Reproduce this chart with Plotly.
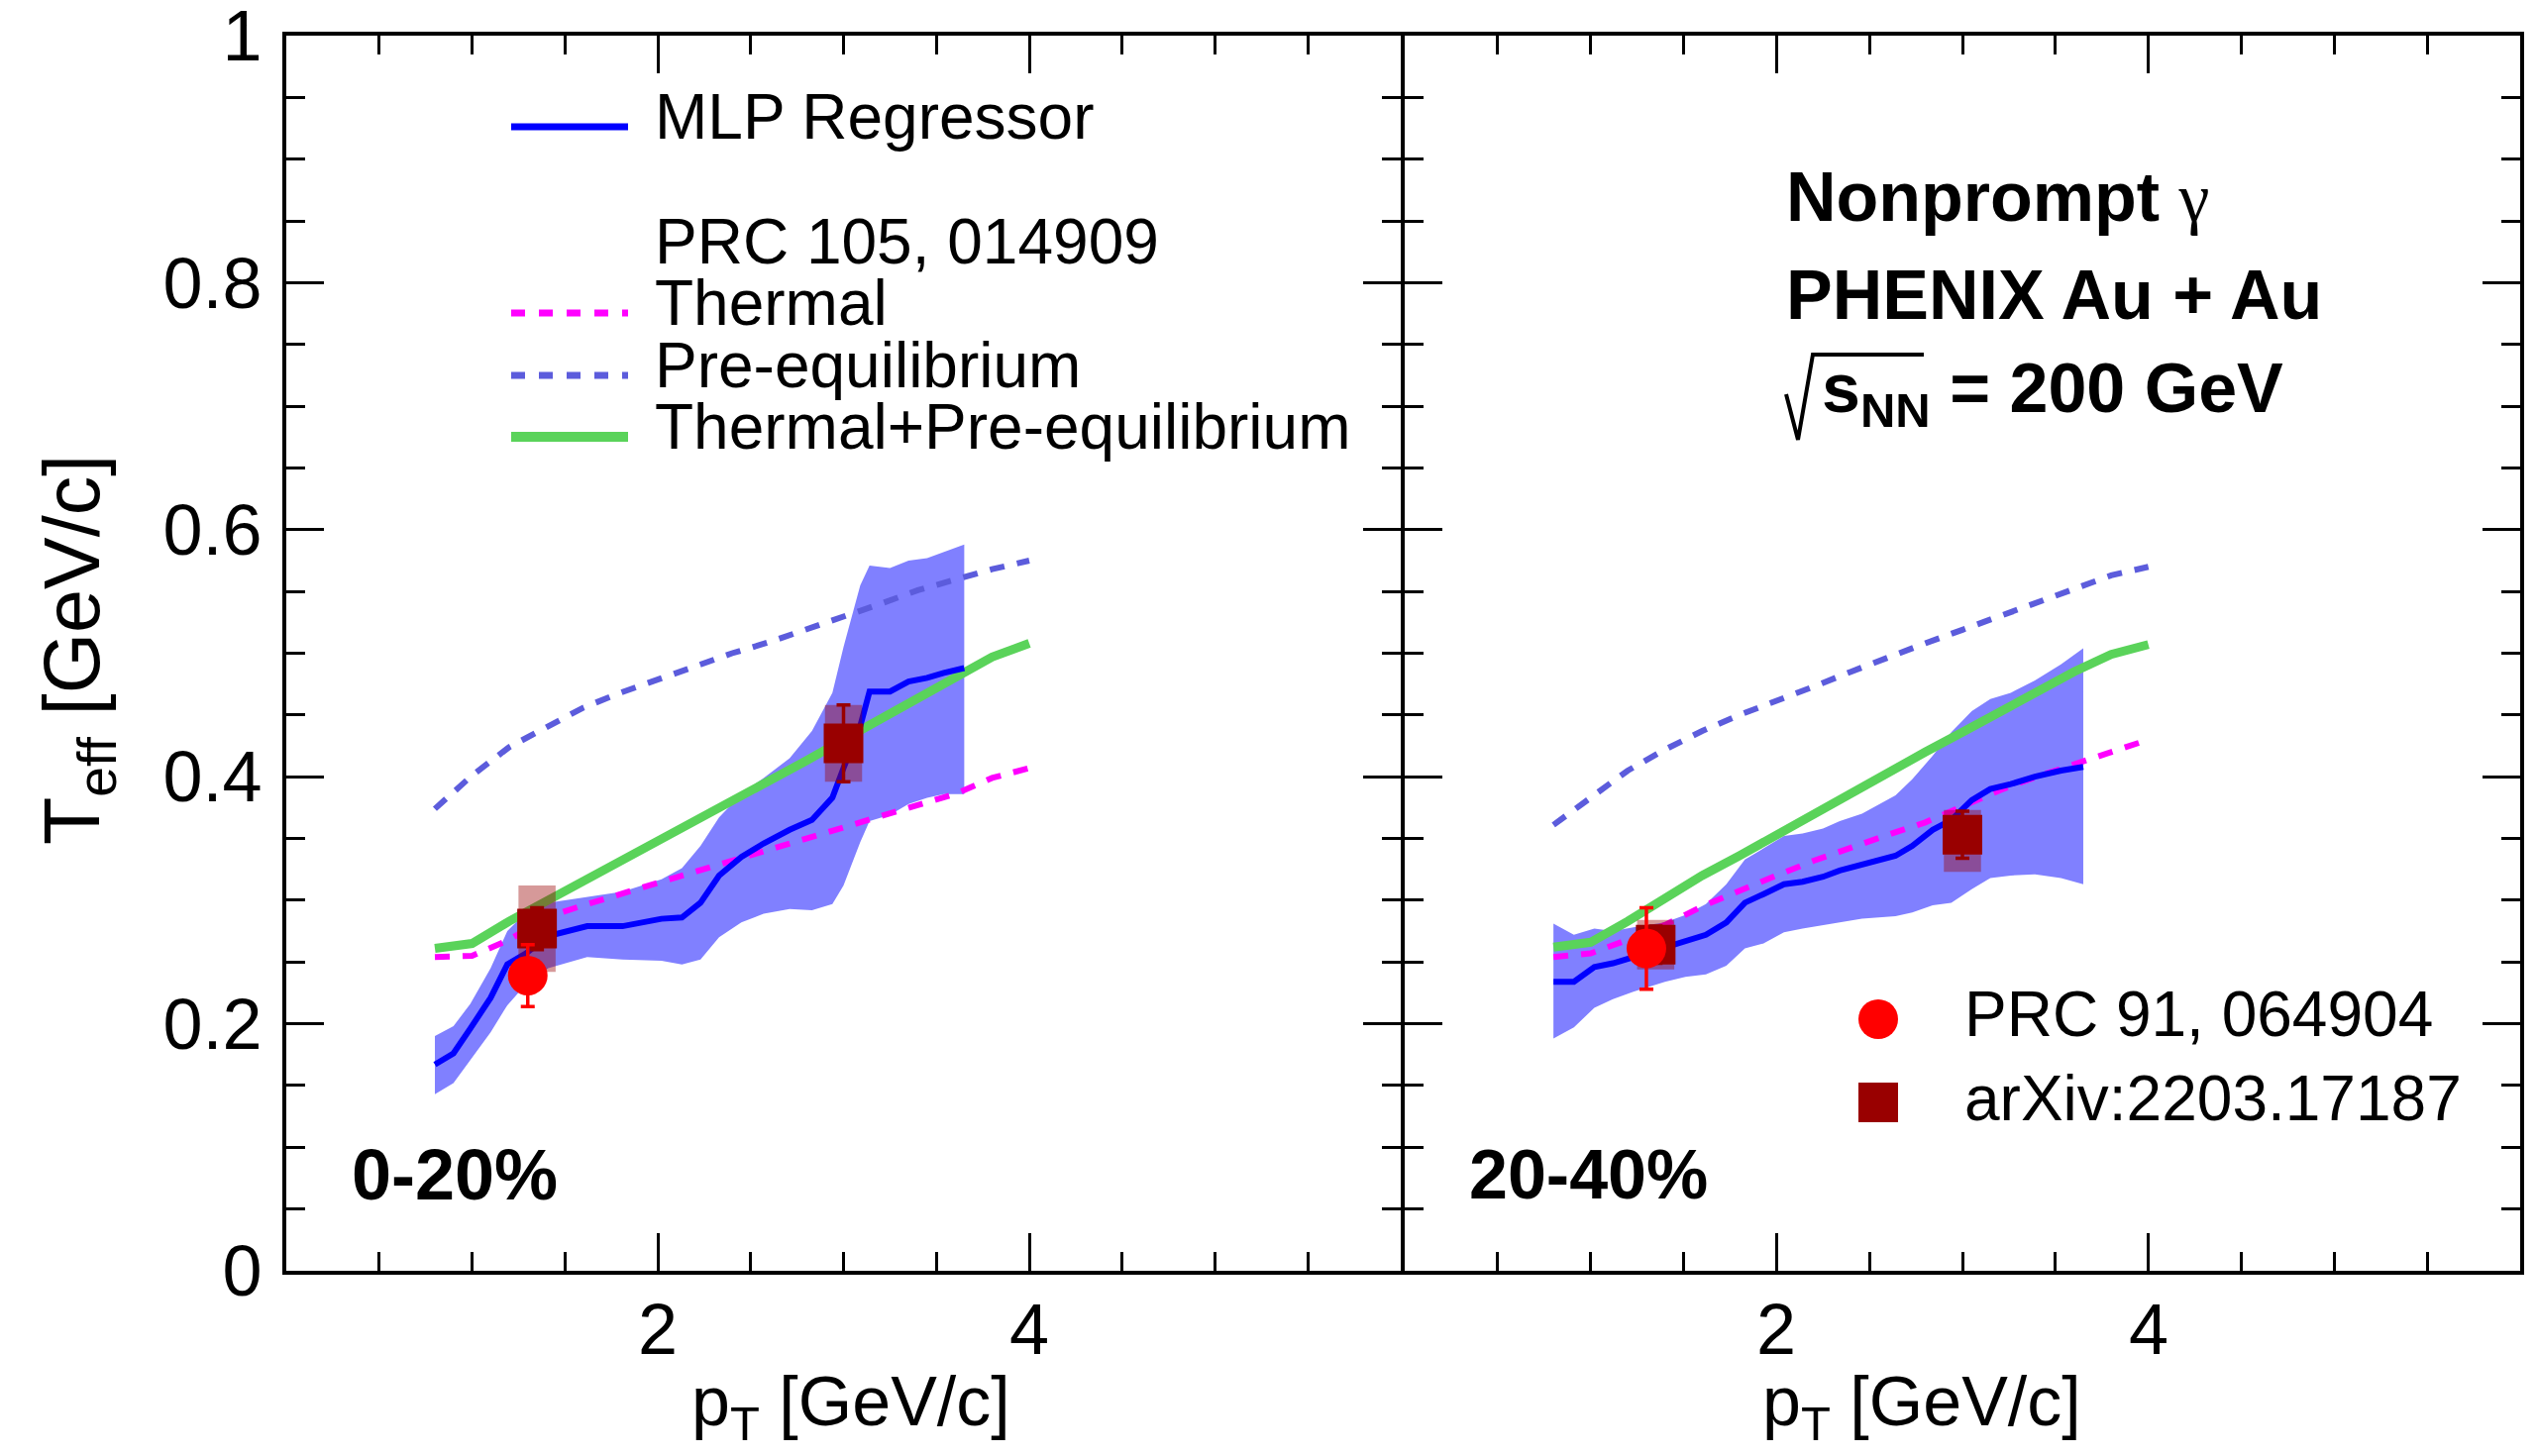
import plotly.graph_objects as go

# ---------------- data ----------------
PT_GRID = [0.8, 1.0, 1.2, 1.4, 1.6, 1.8, 2.0, 2.2, 2.4, 2.6, 2.8, 3.0, 3.2, 3.4, 3.6, 3.8, 4.0]

# 0-20 % centrality, PRC 105, 014909 model curves
THERMAL_020 = [0.254, 0.255, 0.268, 0.286, 0.296, 0.305, 0.314, 0.323, 0.332, 0.342, 0.351, 0.360, 0.369, 0.378, 0.386, 0.399, 0.407]
PREEQ_020 = [0.374, 0.401, 0.424, 0.440, 0.456, 0.468, 0.479, 0.490, 0.500, 0.509, 0.519, 0.529, 0.540, 0.551, 0.560, 0.568, 0.575]
TOTAL_020 = [0.261, 0.265, 0.283, 0.299, 0.315, 0.331, 0.348, 0.364, 0.381, 0.397, 0.413, 0.430, 0.447, 0.463, 0.479, 0.497, 0.508]

# 20-40 % centrality model curves
THERMAL_2040 = [0.254, 0.257, 0.268, 0.280, 0.295, 0.308, 0.320, 0.332, 0.343, 0.353, 0.363, 0.376, 0.389, 0.400, 0.410, 0.420, 0.430]
PREEQ_2040 = [0.361, 0.383, 0.405, 0.422, 0.437, 0.450, 0.461, 0.473, 0.485, 0.497, 0.508, 0.519, 0.530, 0.541, 0.553, 0.563, 0.570]
TOTAL_2040 = [0.262, 0.266, 0.283, 0.302, 0.320, 0.336, 0.353, 0.371, 0.387, 0.404, 0.420, 0.436, 0.453, 0.469, 0.485, 0.499, 0.507]

# MLP regressor, 0-20 %
MLP_PT_020 = [0.80, 0.90, 0.99, 1.10, 1.19, 1.29, 1.41, 1.62, 1.81, 2.02, 2.13, 2.23, 2.33, 2.45, 2.57, 2.71,
              2.83, 2.94, 3.00, 3.09, 3.14, 3.25, 3.35, 3.45, 3.54, 3.65]
MLP_020 = [0.167, 0.176, 0.196, 0.221, 0.248, 0.257, 0.271, 0.279, 0.279, 0.285, 0.286, 0.298, 0.320, 0.335, 0.346, 0.357,
           0.365, 0.383, 0.407, 0.441, 0.469, 0.469, 0.477, 0.480, 0.484, 0.488]
MLP_HI_020 = [0.190, 0.198, 0.216, 0.245, 0.275, 0.290, 0.298, 0.303, 0.307, 0.317, 0.326, 0.344, 0.367, 0.386, 0.399, 0.415,
              0.437, 0.468, 0.505, 0.555, 0.571, 0.569, 0.575, 0.577, 0.582, 0.588]
MLP_LO_020 = [0.143, 0.152, 0.170, 0.193, 0.215, 0.232, 0.245, 0.254, 0.252, 0.251, 0.248, 0.252, 0.270, 0.282, 0.289, 0.293,
              0.292, 0.297, 0.312, 0.347, 0.364, 0.369, 0.378, 0.383, 0.386, 0.386]

# MLP regressor, 20-40 %
MLP_PT_2040 = [0.80, 0.91, 1.02, 1.12, 1.23, 1.40, 1.51, 1.62, 1.73, 1.83, 1.93, 2.04, 2.14, 2.25, 2.34, 2.46,
               2.64, 2.73, 2.84, 2.94, 3.05, 3.15, 3.26, 3.39, 3.53, 3.65]
MLP_2040 = [0.234, 0.234, 0.246, 0.249, 0.254, 0.262, 0.266, 0.272, 0.282, 0.298, 0.305, 0.313, 0.315, 0.319, 0.324, 0.329,
            0.336, 0.344, 0.357, 0.365, 0.381, 0.390, 0.394, 0.400, 0.405, 0.408]
MLP_HI_2040 = [0.281, 0.272, 0.277, 0.275, 0.278, 0.282, 0.288, 0.297, 0.313, 0.333, 0.342, 0.352, 0.354, 0.358, 0.364, 0.370,
               0.385, 0.398, 0.417, 0.436, 0.453, 0.463, 0.468, 0.478, 0.491, 0.504]
MLP_LO_2040 = [0.188, 0.197, 0.213, 0.220, 0.226, 0.234, 0.238, 0.240, 0.247, 0.261, 0.265, 0.274, 0.277, 0.280, 0.282, 0.285,
               0.287, 0.290, 0.296, 0.298, 0.309, 0.318, 0.320, 0.321, 0.318, 0.313]

# PRC 91, 064904 (red circles)
PRC91_PT_020, PRC91_T_020, PRC91_ERR_020 = [1.30], [0.239], [0.025]
PRC91_PT_2040, PRC91_T_2040, PRC91_ERR_2040 = [1.30], [0.261], [0.033]

# arXiv:2203.17187 (dark red squares): stat error and systematic (up / down)
ARX_PT_020 = [1.35, 3.00]
ARX_T_020 = [0.277, 0.427]
ARX_STAT_020 = [0.017, 0.031]
ARX_SYS_UP_020 = [0.035, 0.031]
ARX_SYS_DN_020 = [0.035, 0.031]

ARX_PT_2040 = [1.35, 3.00]
ARX_T_2040 = [0.264, 0.353]
ARX_STAT_2040 = [0.015, 0.019]
ARX_SYS_UP_2040 = [0.020, 0.020]
ARX_SYS_DN_2040 = [0.020, 0.030]

X_TICKS = [2, 4]
X_MINOR = [0.5, 1, 1.5, 2.5, 3, 3.5, 4.5, 5, 5.5]
Y_TICKS = [0, 0.2, 0.4, 0.6, 0.8, 1.0]
Y_TICKTEXT = ["0", "0.2", "0.4", "0.6", "0.8", "1"]

# ---------------- styling ----------------
FONT = "Liberation Sans, Arial, Helvetica, sans-serif"
C_MLP = "#0000ff"
C_BAND = "#8080ff"
C_TH = "#ff00ff"
C_PRE = "#5c5cdc"
C_TOT = "#5ad35a"
C_RED = "#ff0000"
C_DRED = "#990000"
C_SYS = "rgba(153,0,0,0.4)"
SYS_HALF_W = 0.10

W, H = 2561, 1470
L, R, T, B = 289, 17, 36, 187
PW, PH = W - L - R, H - T - B


def px(xp):
    return (xp - L) / PW


def py(yp):
    return (H - B - yp) / PH


fig = go.Figure()


def add_panel(xa, ya, pt_mlp, mlp, hi, lo, th, pre, tot,
              c_pt, c_t, c_err, s_pt, s_t, s_stat, s_up, s_dn):
    fig.add_trace(go.Scatter(x=list(pt_mlp) + list(pt_mlp)[::-1], y=list(hi) + list(lo)[::-1],
                             fill="toself", fillcolor=C_BAND, line=dict(width=0), mode="lines",
                             xaxis=xa, yaxis=ya, hoverinfo="skip"))
    fig.add_trace(go.Scatter(x=PT_GRID, y=pre, mode="lines", line=dict(color=C_PRE, width=6, dash="15px,13px"),
                             xaxis=xa, yaxis=ya))
    fig.add_trace(go.Scatter(x=PT_GRID, y=th, mode="lines", line=dict(color=C_TH, width=6, dash="15px,13px"),
                             xaxis=xa, yaxis=ya))
    fig.add_trace(go.Scatter(x=PT_GRID, y=tot, mode="lines", line=dict(color=C_TOT, width=9),
                             xaxis=xa, yaxis=ya))
    fig.add_trace(go.Scatter(x=pt_mlp, y=mlp, mode="lines", line=dict(color=C_MLP, width=6),
                             xaxis=xa, yaxis=ya))
    for p, t, u, d in zip(s_pt, s_t, s_up, s_dn):
        fig.add_trace(go.Scatter(x=[p - SYS_HALF_W, p + SYS_HALF_W, p + SYS_HALF_W, p - SYS_HALF_W, p - SYS_HALF_W],
                                 y=[t - d, t - d, t + u, t + u, t - d], fill="toself", fillcolor=C_SYS,
                                 line=dict(width=0), mode="lines", xaxis=xa, yaxis=ya, hoverinfo="skip"))
    fig.add_trace(go.Scatter(x=s_pt, y=s_t, mode="markers",
                             marker=dict(symbol="square", size=40, color=C_DRED, line=dict(width=0)),
                             error_y=dict(type="data", array=s_stat, color=C_DRED, thickness=3.5, width=7),
                             xaxis=xa, yaxis=ya))
    fig.add_trace(go.Scatter(x=c_pt, y=c_t, mode="markers",
                             marker=dict(symbol="circle", size=40, color=C_RED, line=dict(width=0)),
                             error_y=dict(type="data", array=c_err, color=C_RED, thickness=3.5, width=7),
                             xaxis=xa, yaxis=ya))


add_panel("x", "y", MLP_PT_020, MLP_020, MLP_HI_020, MLP_LO_020, THERMAL_020, PREEQ_020, TOTAL_020,
          PRC91_PT_020, PRC91_T_020, PRC91_ERR_020, ARX_PT_020, ARX_T_020, ARX_STAT_020, ARX_SYS_UP_020, ARX_SYS_DN_020)
add_panel("x2", "y2", MLP_PT_2040, MLP_2040, MLP_HI_2040, MLP_LO_2040, THERMAL_2040, PREEQ_2040, TOTAL_2040,
          PRC91_PT_2040, PRC91_T_2040, PRC91_ERR_2040, ARX_PT_2040, ARX_T_2040, ARX_STAT_2040, ARX_SYS_UP_2040,
          ARX_SYS_DN_2040)

TICK_SIZE = 72
tickfont = dict(family=FONT, size=TICK_SIZE, color="black")
xcommon = dict(range=[0, 6], showline=True, linecolor="black", linewidth=4, mirror="ticks",
               ticks="inside", ticklen=38, tickwidth=3, tickcolor="black",
               tickmode="array", tickvals=X_TICKS, showticklabels=False, automargin=False,
               minor=dict(tickmode="array", tickvals=X_MINOR, ticks="inside", ticklen=19, tickwidth=3,
                          tickcolor="black"),
               showgrid=False, zeroline=False)
ycommon = dict(range=[0, 1], showline=True, linecolor="black", linewidth=4, mirror="ticks",
               ticks="inside", ticklen=38, tickwidth=3, tickcolor="black",
               tickmode="array", tickvals=Y_TICKS, ticktext=Y_TICKTEXT, tickfont=tickfont,
               ticklabelstandoff=6, ticklabeloverflow="allow", automargin=False,
               minor=dict(tickmode="linear", tick0=0, dtick=0.05, ticks="inside", ticklen=19, tickwidth=3,
                          tickcolor="black"),
               showgrid=False, zeroline=False)

split_l = px(1414)
split_r = px(1418)
fig.update_layout(
    width=W, height=H, margin=dict(l=L, r=R, t=T, b=B, pad=0, autoexpand=False),
    paper_bgcolor="white", plot_bgcolor="white", showlegend=False,
    font=dict(family=FONT, color="black"),
    xaxis=dict(domain=[0, split_l], anchor="y", **xcommon),
    xaxis2=dict(domain=[split_r, 1], anchor="y2", **xcommon),
    yaxis=dict(domain=[0, 1], anchor="x", **ycommon),
    yaxis2=dict(domain=[0, 1], anchor="x2", showticklabels=False, **ycommon),
)

ann = []


def text(xp, yp, s, size, bold=False, xanchor="left", angle=0, yanchor="middle"):
    ann.append(dict(x=px(xp), y=py(yp), xref="paper", yref="paper", text=("<b>%s</b>" % s) if bold else s,
                    showarrow=False, xanchor=xanchor, yanchor=yanchor, textangle=angle,
                    font=dict(family=FONT, size=size, color="black")))


# x tick labels, placed at the tick values of each panel's own x axis
for xref in ("x", "x2"):
    for v in X_TICKS:
        ann.append(dict(x=v, xref=xref, y=py(1342), yref="paper", text=str(v), showarrow=False,
                        xanchor="center", yanchor="middle", font=tickfont))

# axis titles
text(859, 1420, "p<sub>T</sub> [GeV/c]", 70, xanchor="center")
text(1940, 1420, "p<sub>T</sub> [GeV/c]", 70, xanchor="center")
text(78, 656, "T<sub>eff</sub> [GeV/c]", 79, xanchor="center", angle=-90)

# centrality labels
text(353, 1186, "0-20%", 72, bold=True)
text(1481, 1186, "20-40%", 70, bold=True)

# system labels
ann.append(dict(x=px(1801), y=py(199), xref="paper", yref="paper", showarrow=False, xanchor="left",
                yanchor="middle",
                text="<b>Nonprompt</b> <span style=\"font-family:'Liberation Serif',serif\">γ</span>",
                font=dict(family=FONT, size=70, color="black")))
text(1801, 298, "PHENIX Au + Au", 70, bold=True)
text(1837, 397, "s<sub>NN</sub> = 200 GeV", 70, bold=True)

# legend, top-left
text(659, 118, "MLP Regressor", 64)
# multi-line block with tight line spacing (base size sets the line pitch)
block_lines = ["PRC 105, 014909", "Thermal", "Pre-equilibrium", "Thermal+Pre-equilibrium"]
block = "<br>".join('<span style="font-size:64px">%s</span>' % s for s in block_lines)
ann.append(dict(x=px(659), y=py(337), xref="paper", yref="paper", showarrow=False, xanchor="left",
                yanchor="middle", align="left", text=block,
                font=dict(family=FONT, size=48, color="black")))

# legend, bottom-right
text(1981, 1024, "PRC 91, 064904", 64)
text(1981, 1109, "arXiv:2203.17187", 64)

fig.update_layout(annotations=ann)

shapes = []


def hline(x0, x1, yp, color, width, dash="solid"):
    shapes.append(dict(type="line", xref="paper", yref="paper", x0=px(x0), x1=px(x1), y0=py(yp), y1=py(yp),
                       line=dict(color=color, width=width, dash=dash)))


hline(516, 634, 128, C_MLP, 7)
hline(516, 634, 316, C_TH, 7, "14px,14px")
hline(516, 634, 379, C_PRE, 7, "14px,14px")
hline(516, 634, 441, C_TOT, 10)

# legend markers (bottom right)
shapes.append(dict(type="circle", xref="paper", yref="paper", xsizemode="pixel", ysizemode="pixel",
                   xanchor=px(1896), yanchor=py(1029), x0=-20, x1=20, y0=-20, y1=20,
                   fillcolor=C_RED, line=dict(width=0)))
shapes.append(dict(type="rect", xref="paper", yref="paper", xsizemode="pixel", ysizemode="pixel",
                   xanchor=px(1896), yanchor=py(1113), x0=-20, x1=20, y0=-20, y1=20,
                   fillcolor=C_DRED, line=dict(width=0)))

# square-root sign for sqrt(s_NN)
pts = [(1803, 398), (1815, 444), (1830, 358), (1942, 358)]
path = "M " + " L ".join("%.5f,%.5f" % (px(a), py(b)) for a, b in pts)
shapes.append(dict(type="path", xref="paper", yref="paper", path=path, line=dict(color="black", width=4)))

fig.update_layout(shapes=shapes)

fig.write_html("out.html")
